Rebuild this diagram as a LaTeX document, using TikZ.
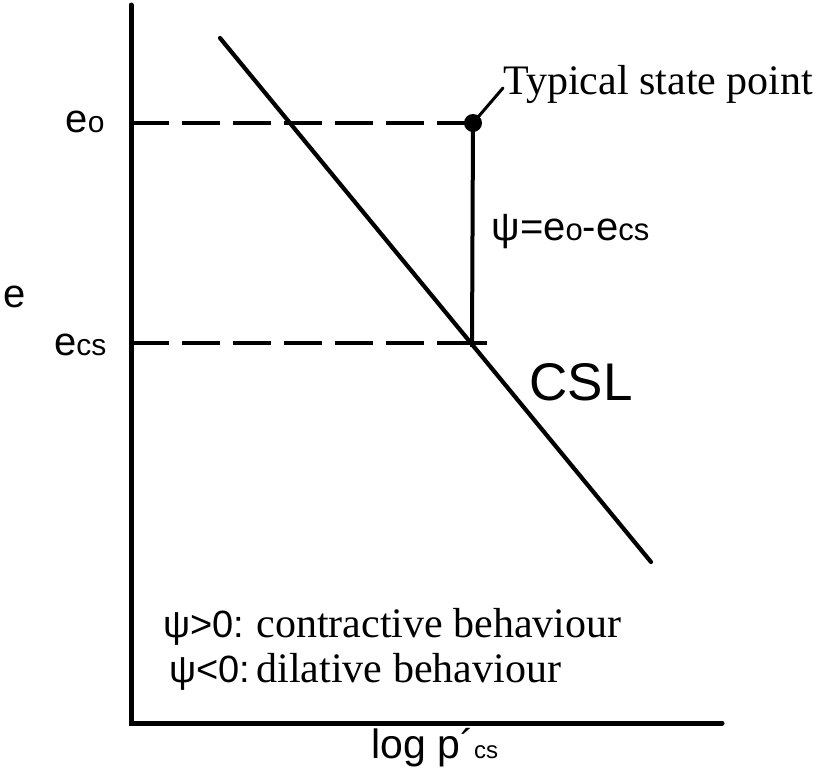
\documentclass[tikz,border=0pt]{standalone}
\usepackage{fontspec}
\setmainfont{Liberation Sans}
\newfontfamily\serif{Liberation Serif}

\begin{document}
\begin{tikzpicture}[x=1pt, y=-1pt,
    axis/.style={line width=5pt, line cap=round},
    csl/.style={line width=4.2pt, line cap=round},
    level/.style={line width=4pt, line cap=butt, dash pattern=on 38pt off 13pt},
    psiline/.style={line width=4pt},
    label/.style={font=\fontsize{40}{42}\selectfont},
    small/.style={font=\fontsize{31}{32}\selectfont},
    note/.style={font=\serif\fontsize{42}{44}\selectfont}]
    \useasboundingbox (0,0) rectangle (817,784);

    \coordinate (O) at (131,723);
    \coordinate (ytop) at (131,5);
    \coordinate (xend) at (722,723);
    \coordinate (eo) at (131,123);
    \coordinate (ecs) at (131,343);
    \coordinate (ticka) at (458,343);
    \coordinate (ecsend) at (487,343);
    \coordinate (crit) at (472,347);
    \coordinate (cslA) at (220,38);
    \coordinate (cslB) at (651,562);
    \coordinate (lead) at (503,88);
    \node[circle, fill, inner sep=0pt, minimum size=18pt] (state) at (473,123) {};

    \draw[axis] (ytop) -- (O) -- (xend);
    \draw[csl] (cslA) -- (cslB);
    \draw[level] (eo) -- (state.center);
    \draw[level] (ecs) -- (ecsend);
    \draw[line width=4pt] (ticka) -- (ecsend);
    \draw[psiline] (state.center) -- (crit);
    \draw[line width=3pt, line cap=round] (state.center) -- (lead);

    \node[label, anchor=base] (elab) at (15,307) {e};
    \node[label, anchor=base east] (eolab) at (108,132) {e{\fontsize{30}{30}\selectfont o}};
    \node[label, anchor=base east] (ecslab) at (110,355) {e{\fontsize{30}{30}\selectfont cs}};
    \node[label, anchor=base west] (psilab) at (488,240) {ψ=e{\fontsize{31}{32}\selectfont o}-e{\fontsize{31}{32}\selectfont cs}};
    \node[font=\fontsize{53}{56}\selectfont, anchor=base west] (csllab) at (526,400) {CSL};
    \node[font=\fontsize{41}{44}\selectfont, anchor=base west] (xlab) at (368,758) {log p´{\fontsize{24}{26}\selectfont cs}};
    \node[note, anchor=base west] (statelab) at (500,95) {Typical state point};

    \node[font=\fontsize{38}{40}\selectfont, anchor=base west] (pos) at (160,637) {ψ>0:};
    \node[note, anchor=base west] (contr) at (253,637) {contractive behaviour};
    \node[font=\fontsize{38}{40}\selectfont, anchor=base west] (neg) at (166,682) {ψ<0:};
    \node[note, anchor=base west] (dilat) at (253,682) {dilative behaviour};
\end{tikzpicture}
\end{document}
